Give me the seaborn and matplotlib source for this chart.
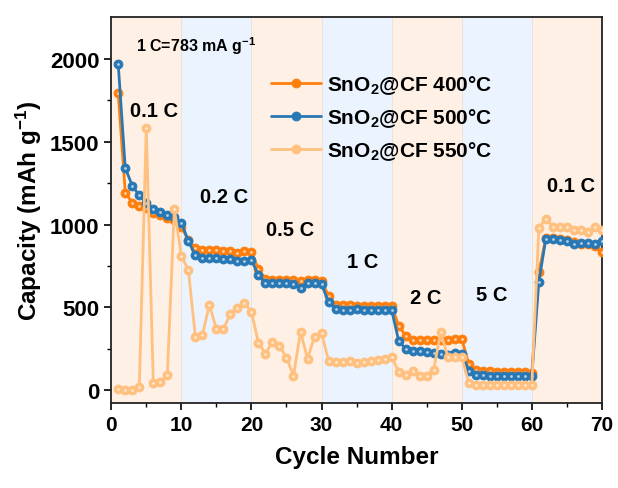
import numpy as np
import pandas as pd
import matplotlib
matplotlib.use("Agg")
import matplotlib.pyplot as plt
import seaborn as sns

cycles = list(range(1, 71))

cap_400 = [1790, 1192, 1132, 1114, 1100, 1072, 1055, 1040, 1030, 985,
           905, 856, 845, 845, 845, 842, 838, 830, 838, 835,
           730, 672, 668, 668, 665, 665, 662, 665, 665, 660,
           570, 515, 513, 513, 512, 512, 512, 510, 510, 510,
           390, 330, 305, 303, 305, 305, 306, 306, 308, 312,
           160, 125, 118, 115, 112, 112, 110, 110, 110, 108,
           712, 920, 918, 912, 905, 895, 880, 885, 868, 835]

cap_500 = [1965, 1341, 1234, 1175, 1130, 1095, 1075, 1055, 1045, 1012,
           900, 815, 796, 800, 800, 795, 790, 780, 778, 785,
           695, 648, 648, 648, 645, 640, 618, 645, 645, 640,
           533, 490, 485, 485, 488, 487, 485, 485, 485, 485,
           300, 250, 240, 235, 230, 228, 222, 215, 225, 222,
           120, 95, 92, 90, 90, 90, 90, 90, 90, 90,
           655, 915, 915, 905, 900, 880, 890, 890, 885, 898]

cap_550 = [10, 5, 5, 18, 1580, 48, 52, 95, 1095, 810,
           727, 325, 335, 515, 371, 371, 461, 497, 527, 473,
           287, 222, 293, 270, 197, 90, 353, 192, 323, 347,
           180, 170, 172, 180, 168, 172, 180, 185, 190, 200,
           113, 96, 120, 90, 90, 126, 353, 204, 204, 200,
           45, 35, 35, 35, 35, 35, 35, 35, 35, 35,
           980, 1036, 988, 988, 986, 970, 966, 952, 983, 970]

series_labels = ["SnO$_2$@CF 400°C", "SnO$_2$@CF 500°C", "SnO$_2$@CF 550°C"]
rate_labels = ["0.1 C", "0.2 C", "0.5 C", "1 C", "2 C", "5 C", "0.1 C"]
rate_x = [6.1, 16.1, 25.5, 35.8, 44.9, 54.3, 65.6]
rate_y = [1689, 1168, 970, 778, 563, 580, 1233]

colors = ["#FF7F0E", "#2878B5", "#FFC080"]

sns.set_style("ticks")
plt.rcParams["font.family"] = ["Liberation Sans", "DejaVu Sans"]
plt.rcParams["font.weight"] = "bold"
plt.rcParams["mathtext.fontset"] = "custom"
plt.rcParams["mathtext.rm"] = "Liberation Sans:bold"
plt.rcParams["mathtext.bf"] = "Liberation Sans:bold"
plt.rcParams["mathtext.it"] = "Liberation Sans:bold"
plt.rcParams["mathtext.default"] = "bf"
for k in ["text.color", "axes.labelcolor", "xtick.color", "ytick.color", "axes.edgecolor"]:
    plt.rcParams[k] = "black"

df = pd.DataFrame({
    "Cycle": cycles * 3,
    "Capacity": cap_400 + cap_500 + cap_550,
    "Sample": [series_labels[0]] * 70 + [series_labels[1]] * 70 + [series_labels[2]] * 70,
})

fig = plt.figure(figsize=(6.18, 4.89), dpi=100)
ax = fig.add_axes([0.180, 0.174, 0.794, 0.789])

# background bands
band_cols = ["#FEF0E4", "#EBF3FE"]
for i in range(7):
    ax.axvspan(i * 10, (i + 1) * 10, color=band_cols[i % 2], lw=0, zorder=0)
for i in range(1, 7):
    ax.axvline(i * 10, color="#E8E0DA", lw=0.6, zorder=0.5)

for lab, col, z in zip(series_labels, colors, [3, 4, 5]):
    sub = df[df["Sample"] == lab]
    sns.lineplot(data=sub, x="Cycle", y="Capacity", ax=ax, color=col,
                 marker="o", markersize=6.3, markeredgecolor=col, lw=2,
                 label=lab, zorder=z)
    ax.plot(sub["Cycle"], sub["Capacity"], ls="none", marker="o",
            markersize=2.0, color="white", alpha=0.65, markeredgewidth=0,
            zorder=z + 0.1)

ax.set_xlim(0, 70)
ax.set_ylim(-75, 2250)
ax.set_xticks(range(0, 71, 10))
ax.set_xticks(range(5, 70, 10), minor=True)
ax.set_yticks([0, 500, 1000, 1500, 2000])
ax.set_yticks([250, 750, 1250, 1750], minor=True)
ax.tick_params(axis="both", which="major", direction="out", length=5, width=1.2)
ax.tick_params(axis="x", which="major", labelsize=15)
ax.tick_params(axis="y", which="major", labelsize=16)
ax.tick_params(axis="both", which="minor", direction="out", length=3, width=1.0)
for s in ax.spines.values():
    s.set_linewidth(1.3)
    s.set_color("#222222")
for lbl in ax.get_xticklabels() + ax.get_yticklabels():
    lbl.set_fontweight("bold")

ax.set_xlabel("Cycle Number", fontsize=17.5, fontweight="bold", labelpad=8)
ax.set_ylabel("Capacity (mAh g$^{-1}$)", fontsize=17.5, fontweight="bold", labelpad=4)

ax.text(12.1, 2078, "1 C=783 mA g$^{-1}$", fontsize=11.5, fontweight="bold",
        ha="center", va="center")
for t, x, y in zip(rate_labels, rate_x, rate_y):
    ax.text(x, y, t, fontsize=14.5, fontweight="bold", ha="center", va="center")

h, l = ax.get_legend_handles_labels()
ax.legend(h, l, loc="upper left", bbox_to_anchor=(0.325, 0.855), frameon=False,
          handlelength=2.4, handletextpad=0.3, labelspacing=0.5,
          borderpad=0, borderaxespad=0,
          prop={"weight": "bold", "size": 15})

fig.savefig("out.png", dpi=100)
